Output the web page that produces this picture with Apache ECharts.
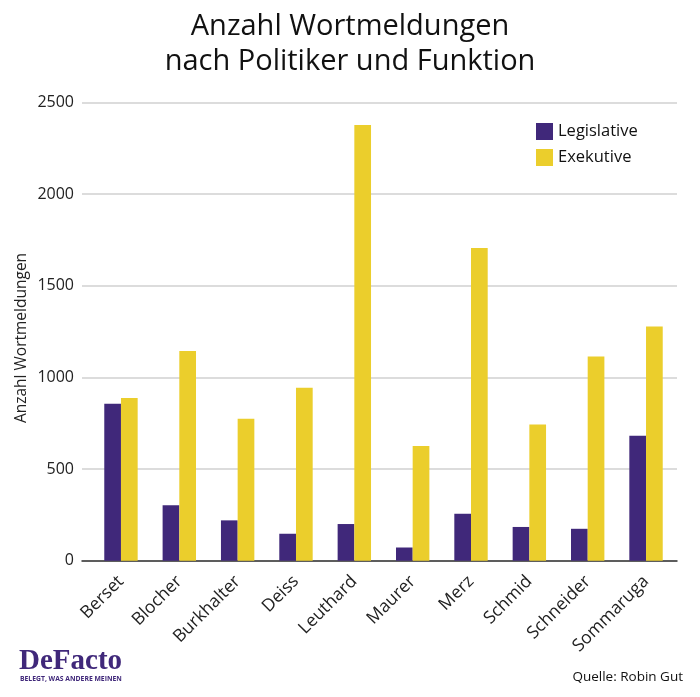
<!DOCTYPE html>
<html>
<head>
<meta charset="utf-8">
<script src="https://cdn.jsdelivr.net/npm/echarts@6/dist/echarts.min.js"></script>
<style>html,body{margin:0;padding:0;background:#fff}#c{width:700px;height:697px}</style>
</head>
<body>
<div id="c"></div>
<script>
var categories = ['Berset','Blocher','Burkhalter','Deiss','Leuthard','Maurer','Merz','Schmid','Schneider','Sommaruga'];
var legislative = [856, 303, 220, 147, 200, 72, 256, 184, 174, 681];
var exekutive = [887, 1144, 774, 943, 2376, 625, 1706, 743, 1113, 1277];
var yTicks = [0, 500, 1000, 1500, 2000, 2500];

var FONT = '"Open Sans", "Liberation Sans", sans-serif';
var chart = echarts.init(document.getElementById('c'), null, {renderer: 'canvas'});
var option = {
  backgroundColor: '#fff',
  animation: false,
  textStyle: {fontFamily: FONT},
  title: {
    text: 'Anzahl Wortmeldungen\nnach Politiker und Funktion',
    left: 'center', top: 4,
    textStyle: {fontFamily: FONT, fontSize: 29, fontWeight: 'normal', color: '#111', lineHeight: 35}
  },
  legend: {
    orient: 'vertical', left: 536, top: 123, padding: 0,
    itemWidth: 17, itemHeight: 17, itemGap: 9,
    icon: 'rect',
    textStyle: {fontFamily: FONT, fontSize: 16.5, color: '#111'},
    data: ['Legislative', 'Exekutive']
  },
  grid: [
    {left: 91.8, right: 24.8, top: 102.3, bottom: 136.3},
    {left: 82, right: 23, top: 102.3, bottom: 136.3}
  ],
  xAxis: [
    {
      type: 'category', gridIndex: 0, data: categories,
      axisLine: {show: false}, axisTick: {show: false},
      axisLabel: {rotate: 45, fontSize: 17.5, color: '#222', margin: 18, fontFamily: FONT, interval: 0}
    },
    {
      type: 'value', gridIndex: 1, min: 0, max: 1,
      axisLine: {show: true, lineStyle: {color: '#333', width: 1.5}},
      axisTick: {show: false}, axisLabel: {show: false}, splitLine: {show: false}
    }
  ],
  yAxis: [
    {type: 'value', gridIndex: 0, min: yTicks[0], max: yTicks[yTicks.length-1], interval: 500, show: false, splitLine: {show: false}},
    {
      type: 'value', gridIndex: 1, min: yTicks[0], max: yTicks[yTicks.length-1], interval: 500,
      axisLine: {show: false}, axisTick: {show: false},
      axisLabel: {fontSize: 16, color: '#222', margin: 8, fontFamily: FONT, formatter: function (v) { return String(v); }},
      splitLine: {lineStyle: {color: '#d0d0d0', width: 1.5}}
    }
  ],
  series: [
    {name: 'Legislative', type: 'bar', xAxisIndex: 0, yAxisIndex: 0, data: legislative, barWidth: 16.7, barGap: '0%', itemStyle: {color: '#40287a'}},
    {name: 'Exekutive', type: 'bar', xAxisIndex: 0, yAxisIndex: 0, data: exekutive, barWidth: 16.7, barGap: '0%', itemStyle: {color: '#ebce2c'}}
  ],
  graphic: [
    {type: 'text', x: 22, y: 338, rotation: Math.PI / 2, style: {text: 'Anzahl Wortmeldungen', font: '15.5px ' + FONT, fill: '#222', align: 'center', verticalAlign: 'middle'}},
    {type: 'text', left: 19, top: 647, style: {text: 'DeFacto', font: 'bold 29px "Liberation Serif", serif', fill: '#40287a'}},
    {type: 'text', left: 20, top: 676, style: {text: 'BELEGT, WAS ANDERE MEINEN', font: 'bold 6.8px ' + FONT, fill: '#40287a'}},
    {type: 'text', right: 17, top: 670, style: {text: 'Quelle: Robin Gut', font: '13.5px ' + FONT, fill: '#111'}}
  ]
};
chart.setOption(option);
</script>
</body>
</html>
